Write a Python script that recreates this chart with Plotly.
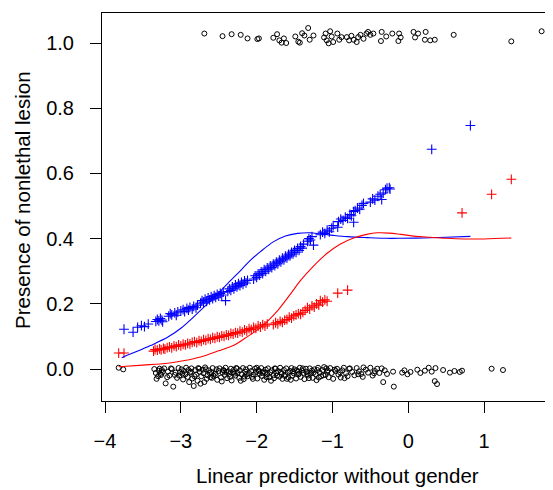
import plotly.graph_objects as go

# ---- data ----
zero_x = [-3.82, -3.76,
          -3.35, -3.33, -3.30, -3.28, -3.27, -3.25, -3.22, -3.20, -3.17, -3.15, -3.12, -3.10, -3.08, -3.05, -3.03, -3.01, -2.99, -2.97, -2.96, -2.94,
          -2.93, -2.91, -2.89, -2.88, -2.86, -2.85, -2.83, -2.81, -2.80, -2.78, -2.76, -2.75, -2.73, -2.71, -2.70, -2.68, -2.66, -2.65, -2.63, -2.61,
          -2.60, -2.58, -2.57, -2.55, -2.53, -2.52, -2.50, -2.49, -2.47, -2.45, -2.44, -2.42, -2.41, -2.39, -2.37, -2.36, -2.34, -2.33, -2.31, -2.30,
          -2.28, -2.26, -2.25, -2.23, -2.22, -2.20, -2.18, -2.17, -2.15, -2.14, -2.12, -2.10, -2.09, -2.07, -2.06, -2.04, -2.02, -2.01, -1.99, -1.98,
          -1.96, -1.94, -1.93, -1.91, -1.90, -1.88, -1.86, -1.85, -1.83, -1.82, -1.80, -1.78, -1.77, -1.75, -1.74, -1.72, -1.70, -1.69, -1.67, -1.66,
          -1.64, -1.62, -1.61, -1.59, -1.58, -1.56, -1.54, -1.53, -1.51, -1.50, -1.48, -1.46, -1.45, -1.43, -1.42, -1.40, -1.38, -1.37, -1.35, -1.34,
          -1.32, -1.30, -1.29, -1.27, -1.26, -1.24, -1.22, -1.21, -1.19, -1.17, -1.15, -1.13, -1.11, -1.09, -1.07, -1.05, -1.03, -1.01, -0.99, -0.96,
          -0.94, -0.92, -0.89, -0.87, -0.85, -0.82, -0.80, -0.77, -0.74, -0.71, -0.68, -0.65, -0.62, -0.59, -0.56, -0.53, -0.50, -0.47, -0.44, -0.41,
          -0.38, -0.35, -0.31, -0.28, -0.20, -0.19, -0.08, -0.05, -0.01, 0.03, 0.12, 0.16, 0.22, 0.27, 0.31, 0.35, 0.36, 0.38, 0.46, 0.55,
          0.61, 0.68, 0.71, 1.10, 1.25, -0.33,
          -3.32, -3.18, -3.02, -2.87, -2.74, -2.62, -2.46, -2.35, -2.21, -2.05, -1.92, -1.81, -1.68, -1.55, -1.44, -1.31, -1.18, -1.06, -3.24, -2.69,
          -3.29, -3.13, -2.98, -2.82, -2.67, -2.54, -2.40, -2.27, -2.13, -1.97, -1.87, -1.76, -1.63, -1.52, -1.39, -1.25, -1.12, -0.97, -0.84, -0.66,
          -3.26, -3.07, -2.90, -2.77, -2.59, -2.43, -2.29, -2.16, -2.00, -1.89, -1.73, -1.60, -1.47, -1.33, -1.20, -1.08, -0.90, -0.78, -0.60, -0.45]
zero_y = [0.004, -0.001,
          0.000, -0.012, -0.022, 0.001, -0.015, -0.003, 0.002, -0.044, -0.008, -0.020, 0.000, -0.054, -0.018, -0.027, 0.003, -0.010, -0.001, -0.032, -0.006, -0.016,
          0.004, -0.024, -0.040, -0.011, 0.002, -0.029, -0.052, -0.003, -0.017, -0.036, 0.001, -0.008, -0.022, -0.002, -0.013, 0.005, -0.030, -0.019, -0.004, -0.025,
          -0.009, 0.003, -0.021, -0.014, -0.001, -0.033, -0.006, 0.002, -0.026, -0.011, -0.003, -0.018, 0.004, -0.028, -0.007, -0.015, 0.001, -0.035, -0.010, -0.002,
          -0.020, 0.002, -0.012, -0.027, -0.004, -0.016, 0.003, -0.031, -0.008, -0.001, -0.022, -0.013, 0.004, -0.006, -0.024, -0.017, 0.001, -0.009, -0.029, -0.003,
          -0.014, 0.003, -0.021, -0.007, -0.033, -0.002, -0.016, 0.002, -0.025, -0.010, -0.004, -0.019, -0.028, 0.001, -0.012, -0.006, -0.023, 0.004, -0.015, -0.030,
          -0.003, -0.018, 0.002, -0.011, -0.026, -0.006, 0.003, -0.020, -0.013, -0.001, -0.029, -0.008, -0.017, 0.004, -0.024, -0.004, -0.012, -0.031, 0.001, -0.009,
          -0.020, 0.002, -0.014, -0.005, -0.027, -0.001, -0.016, -0.034, 0.004, -0.010, -0.022, -0.003, 0.006, -0.018, -0.008, -0.025, 0.003, -0.012, -0.030, -0.006,
          0.001, -0.017, -0.026, -0.004, 0.004, -0.013, -0.022, 0.002, -0.009, -0.019, 0.003, -0.007, -0.015, 0.005, -0.002, -0.011, 0.004, -0.020, -0.006, 0.001,
          -0.012, 0.002, -0.004, -0.015, -0.008, -0.054, -0.011, -0.004, -0.016, -0.009, -0.002, -0.012, -0.005, 0.004, -0.008, -0.037, 0.003, -0.046, -0.003, -0.011,
          -0.006, -0.009, -0.005, 0.001, -0.003, -0.040,
          -0.030, -0.025, -0.020, -0.008, -0.045, -0.012, -0.038, -0.024, -0.036, -0.030, -0.012, -0.036, -0.009, -0.033, -0.014, -0.028, -0.026, -0.004, -0.009, -0.040,
          -0.005, 0.002, -0.014, -0.022, -0.001, -0.019, -0.009, 0.003, -0.016, -0.006, -0.025, 0.002, -0.021, -0.007, 0.002, -0.011, -0.019, -0.002, -0.028, -0.016,
          -0.018, -0.011, -0.003, 0.003, -0.027, -0.005, -0.014, -0.023, 0.004, -0.012, -0.020, -0.030, -0.004, -0.016, -0.003, 0.002, -0.010, 0.001, -0.024, -0.013]

one_x = [-2.69, -2.45, -2.33, -2.21, -2.12, -1.99, -1.97,
         -1.78, -1.73, -1.70, -1.67, -1.64, -1.61,
         -1.49, -1.45, -1.40, -1.37, -1.32, -1.30, -1.25, -1.43,
         -1.11, -1.09, -1.075, -1.03, -1.05, -1.01, -0.99, -0.935, -0.91, -0.88,
         -0.81, -0.78, -0.75, -0.72, -0.68, -0.66, -0.63, -0.59, -0.55, -0.53, -0.50, -0.46,
         -0.35, -0.36, -0.29, -0.21, -0.12, -0.10, -0.13,
         0.07, 0.13, 0.23, 0.09, 0.22, 0.29, 0.35,
         0.60, 1.36, 1.76]
one_y = [1.029, 1.021, 1.027, 1.025, 1.014, 1.012, 1.014,
         1.016, 1.027, 1.008, 1.001, 1.014, 1.000,
         1.020, 1.004, 1.030, 1.023, 1.046, 1.010, 1.023, 1.001,
         1.017, 1.029, 1.008, 1.036, 0.999, 1.020, 1.003, 1.029, 1.010, 1.018,
         1.018, 1.008, 1.022, 1.010, 1.003, 1.018, 1.025, 1.013, 1.029, 1.034, 1.025, 1.029,
         1.034, 1.006, 1.020, 1.029, 1.029, 1.017, 1.006,
         1.034, 1.029, 1.034, 1.017, 1.010, 1.008, 1.010,
         1.025, 1.005, 1.036]

blue_x = [-3.75, -3.63, -3.57, -3.52, -3.48, -3.43,
          -3.33, -3.31, -3.29, -3.27, -3.25, -3.24,
          -3.16, -3.14, -3.12, -3.08, -3.06, -3.04,
          -3.00, -2.97, -2.95, -2.92, -2.90, -2.88, -2.85, -2.83, -2.80, -2.78,
          -2.74, -2.72, -2.70, -2.68, -2.66, -2.64, -2.62, -2.60, -2.58,
          -2.56, -2.54, -2.52, -2.50, -2.48, -2.46, -2.44, -2.41,
          -2.38, -2.36, -2.34, -2.32, -2.30, -2.28, -2.26, -2.24, -2.22, -2.20, -2.18, -2.16, -2.14, -2.12,
          -2.04, -2.02, -2.00, -1.98, -1.96, -1.94, -1.92, -1.90, -1.88, -1.86,
          -1.84, -1.82, -1.80, -1.78, -1.76, -1.74, -1.72, -1.70, -1.68, -1.66, -1.64, -1.62, -1.60,
          -1.58, -1.56, -1.54, -1.52, -1.50, -1.48, -1.46, -1.44, -1.42, -1.40, -1.38,
          -1.33, -1.31, -1.29, -1.27, -1.25,
          -1.16, -1.13, -1.10, -1.07, -1.04, -1.01, -0.99, -0.93,
          -0.92, -0.89, -0.86, -0.83, -0.80, -0.77, -0.75, -0.72, -0.72,
          -0.70, -0.67, -0.64, -0.61, -0.59,
          -0.50, -0.47, -0.44, -0.40, -0.37, -0.35, -0.33, -0.30, -0.28, -0.25, -0.24,
          0.31, 0.82]
blue_y = [0.122, 0.113, 0.128, 0.133, 0.130, 0.138,
          0.146, 0.152, 0.148, 0.155, 0.150, 0.145,
          0.162, 0.170, 0.166, 0.172, 0.165, 0.175,
          0.178, 0.182, 0.176, 0.186, 0.181, 0.189, 0.184, 0.192, 0.188, 0.196,
          0.202, 0.210, 0.205, 0.214, 0.208, 0.218, 0.212, 0.222, 0.216,
          0.225, 0.220, 0.229, 0.224, 0.232, 0.227, 0.236, 0.210,
          0.238, 0.246, 0.241, 0.252, 0.246, 0.258, 0.252, 0.262, 0.256, 0.266, 0.260, 0.270, 0.264, 0.272,
          0.276, 0.286, 0.281, 0.292, 0.288, 0.298, 0.293, 0.305, 0.300, 0.310,
          0.306, 0.316, 0.311, 0.322, 0.317, 0.328, 0.323, 0.334, 0.329, 0.340, 0.335, 0.346, 0.341,
          0.352, 0.347, 0.358, 0.353, 0.364, 0.358, 0.370, 0.364, 0.376, 0.371, 0.383,
          0.392, 0.400, 0.396, 0.406, 0.380,
          0.412, 0.420, 0.416, 0.426, 0.421, 0.432, 0.440, 0.435,
          0.452, 0.460, 0.456, 0.466, 0.462, 0.474, 0.470, 0.483, 0.450,
          0.486, 0.494, 0.490, 0.502, 0.508,
          0.512, 0.522, 0.518, 0.530, 0.536, 0.520, 0.540, 0.550, 0.555, 0.556, 0.552,
          0.674, 0.747]

red_x = [-3.82, -3.75,
         -3.36, -3.34, -3.31, -3.28, -3.26, -3.23, -3.21, -3.18,
         -3.15, -3.12, -3.09, -3.06, -3.03, -3.00, -2.97, -2.94, -2.91, -2.88, -2.85,
         -2.82, -2.79, -2.76, -2.73, -2.70, -2.67, -2.64, -2.61, -2.58, -2.55, -2.52, -2.49, -2.46, -2.43, -2.40,
         -2.37, -2.34, -2.31, -2.28, -2.25, -2.22, -2.19, -2.16, -2.13, -2.10, -2.07, -2.04, -2.01, -1.98, -1.95, -1.92, -1.89, -1.86,
         -1.78, -1.75, -1.72, -1.69, -1.66, -1.63, -1.60, -1.57, -1.54, -1.51, -1.48, -1.45, -1.42, -1.39,
         -1.36, -1.33, -1.30, -1.27, -1.24, -1.21, -1.18, -1.16, -1.13, -1.10, -1.07,
         -0.93, -0.80,
         0.71, 1.10, 1.36]
red_y = [0.049, 0.049,
         0.055, 0.060, 0.058, 0.062, 0.059, 0.063, 0.061, 0.066,
         0.068, 0.065, 0.071, 0.069, 0.074, 0.071, 0.076, 0.074, 0.079, 0.077, 0.082,
         0.084, 0.081, 0.087, 0.085, 0.090, 0.088, 0.093, 0.091, 0.096, 0.094, 0.099, 0.097, 0.102, 0.100, 0.105,
         0.103, 0.109, 0.107, 0.112, 0.110, 0.116, 0.113, 0.120, 0.117, 0.124, 0.121, 0.128, 0.125, 0.132, 0.129, 0.136, 0.132, 0.138,
         0.136, 0.142, 0.139, 0.146, 0.143, 0.150, 0.152, 0.159, 0.156, 0.163, 0.166, 0.170, 0.168, 0.174,
         0.180, 0.188, 0.184, 0.194, 0.190, 0.200, 0.196, 0.210, 0.205, 0.212, 0.208,
         0.233, 0.242,
         0.479, 0.536, 0.582]

blue_curve_x = [-3.78, -3.6, -3.4, -3.17, -3.0, -2.74, -2.55, -2.38, -2.2, -2.08, -1.95, -1.78, -1.62,
                -1.46, -1.3, -1.15, -0.99, -0.8, -0.54, -0.3, -0.1, 0.2, 0.5, 0.82]
blue_curve_y = [0.035, 0.052, 0.072, 0.098, 0.125, 0.18, 0.222, 0.263, 0.305, 0.334, 0.36, 0.39, 0.408,
                0.416, 0.418, 0.414, 0.41, 0.406, 0.403, 0.401, 0.401, 0.402, 0.404, 0.407]

red_curve_x = [-3.82, -3.5, -3.17, -2.95, -2.74, -2.5, -2.3, -2.15, -1.99, -1.85, -1.72, -1.57, -1.42,
               -1.25, -1.07, -0.9, -0.72, -0.55, -0.41, -0.25, -0.1, 0.1, 0.29, 0.5, 0.73, 1.0, 1.36]
red_curve_y = [0.007, 0.012, 0.018, 0.026, 0.037, 0.056, 0.073, 0.095, 0.12, 0.148, 0.18, 0.225, 0.272,
               0.316, 0.355, 0.383, 0.402, 0.413, 0.418, 0.417, 0.413, 0.407, 0.404, 0.401, 0.399, 0.399, 0.402]

x_ticks = [-4, -3, -2, -1, 0, 1]
x_tick_labels = ["\u22124", "\u22123", "\u22122", "\u22121", "0", "1"]
y_ticks = [0.0, 0.2, 0.4, 0.6, 0.8, 1.0]
y_tick_labels = ["0.0", "0.2", "0.4", "0.6", "0.8", "1.0"]

# ---- figure ----
# the page body has an 8px margin, so the figure is laid out 8px smaller
FONT = "Liberation Sans, Arial, Helvetica, sans-serif"
FS = 20
FS_TITLE = 20.5
OFF = 8
W, H = 553 - OFF, 490 - OFF
ML, MR, MT, MB = 102 - OFF, 0, 13 - OFF, 89

fig = go.Figure()
circle = dict(symbol="circle-open", size=5, color="black", line=dict(width=1, color="black"))
fig.add_trace(go.Scatter(x=zero_x, y=zero_y, mode="markers", marker=circle, showlegend=False))
fig.add_trace(go.Scatter(x=one_x, y=one_y, mode="markers", marker=circle, showlegend=False))
fig.add_trace(go.Scatter(x=blue_x, y=blue_y, mode="markers",
                         marker=dict(symbol="cross-thin-open", size=7, color="#0000FF",
                                     line=dict(width=1.1, color="#0000FF")), showlegend=False))
fig.add_trace(go.Scatter(x=red_x, y=red_y, mode="markers",
                         marker=dict(symbol="cross-thin-open", size=7, color="#FF0000",
                                     line=dict(width=1.1, color="#FF0000")), showlegend=False))
fig.add_trace(go.Scatter(x=blue_curve_x, y=blue_curve_y, mode="lines",
                         line=dict(color="#0000FF", width=1.1, shape="spline"), showlegend=False))
fig.add_trace(go.Scatter(x=red_curve_x, y=red_curve_y, mode="lines",
                         line=dict(color="#FF0000", width=1.1, shape="spline"), showlegend=False))

fig.update_layout(
    width=W, height=H,
    margin=dict(l=ML, r=MR, t=MT, b=MB, pad=0),
    paper_bgcolor="white", plot_bgcolor="white",
    font=dict(family=FONT, size=FS, color="black"),
    xaxis=dict(range=[-4.04, 1.91], tickvals=x_ticks, ticktext=x_tick_labels,
               ticks="outside", ticklen=11, tickwidth=1, tickcolor="black",
               showline=True, linecolor="black", linewidth=1, mirror=True,
               showgrid=False, zeroline=False, ticklabelstandoff=11,
               tickfont=dict(family=FONT, size=FS)),
    yaxis=dict(range=[-0.098, 1.092], tickvals=y_ticks, ticktext=y_tick_labels,
               ticks="outside", ticklen=11, tickwidth=1, tickcolor="black",
               showline=True, linecolor="black", linewidth=1, mirror=False,
               showgrid=False, zeroline=False, ticklabelstandoff=12,
               tickfont=dict(family=FONT, size=FS)),
)

pw = W - ML - MR
ph = H - MT - MB
fig.add_annotation(text="Linear predictor without gender", xref="paper", yref="paper",
                   x=(337 - OFF - ML) / pw, y=(H - MB - (475 - OFF)) / ph, showarrow=False,
                   xanchor="center", yanchor="middle", font=dict(family=FONT, size=FS_TITLE))
fig.add_annotation(text="Presence of nonlethal lesion", xref="paper", yref="paper",
                   x=(23 - OFF - ML) / pw, y=(H - MB - (200 - OFF)) / ph, showarrow=False, textangle=-90,
                   xanchor="center", yanchor="middle", font=dict(family=FONT, size=FS_TITLE))

fig.write_html("out.html")
